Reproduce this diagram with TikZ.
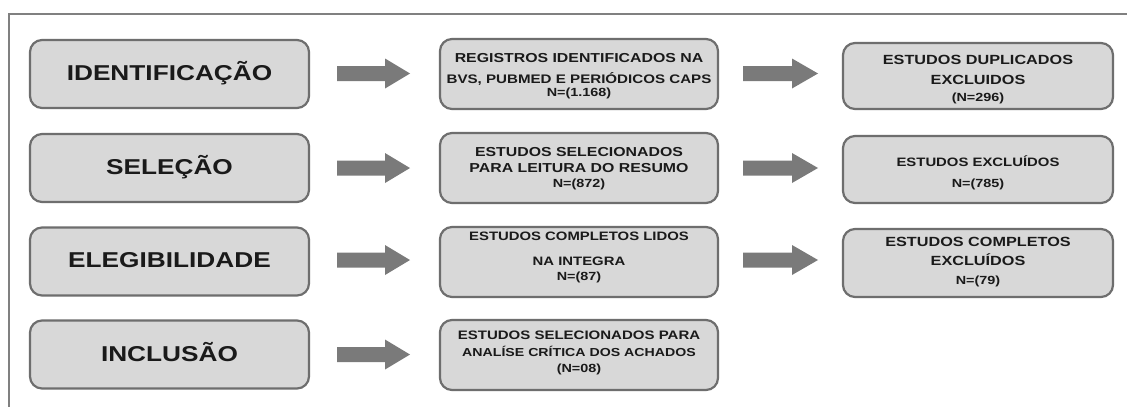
\documentclass[tikz,border=0pt]{standalone}
\usepackage{fontspec}
\newfontfamily\wf[FakeStretch=1.22]{Liberation Sans}
\definecolor{boxfill}{HTML}{D8D8D8}
\definecolor{boxline}{HTML}{6E6E6E}
\definecolor{arrfill}{HTML}{7A7A7A}
\definecolor{framec}{HTML}{808080}
\definecolor{txt}{HTML}{1A1A1A}
\tikzset{
  box/.style={draw=boxline, fill=boxfill, line width=2.2pt, rounded corners=12pt, inner sep=0pt},
  lbl/.style={anchor=base, inner sep=0pt, text=txt, font=\wf\bfseries\fontsize{#1}{#1}\selectfont},
  arr/.style={fill=arrfill},
  framel/.style={draw=framec, line width=2pt}
}
\newcommand\barrow[4]{\fill[arr] (#1,#4-7.5) -- (#3,#4-7.5) -- (#3,#4-15) -- (#2,#4) -- (#3,#4+15) -- (#3,#4+7.5) -- (#1,#4+7.5) -- cycle;}
\begin{document}
\begin{tikzpicture}[x=1pt,y=-1pt]
\useasboundingbox[fill=white] (0,0) rectangle (1127,407);
\draw[framel] (1127,13.8) -- (8.7,13.8) -- (8.7,407);

% column 1
\node[box, minimum width=279pt, minimum height=68pt] (b11) at (169.5,74) {};
\node[box, minimum width=279pt, minimum height=68pt] (b21) at (169.5,168) {};
\node[box, minimum width=279pt, minimum height=68pt] (b31) at (169.5,261.5) {};
\node[box, minimum width=279pt, minimum height=68pt] (b41) at (169.5,354.5) {};
\node[lbl=21.5] (t11) at (169.5,80.5) {IDENTIFICAÇÃO};
\node[lbl=21.5] (t21) at (169.5,174.5) {SELEÇÃO};
\node[lbl=21.5] (t31) at (169.5,267.5) {ELEGIBILIDADE};
\node[lbl=21.5] (t41) at (169.5,361.5) {INCLUSÃO};

% column 2
\node[box, minimum width=278pt, minimum height=70pt] (b12) at (579,74) {};
\node[box, minimum width=278pt, minimum height=70pt] (b22) at (579,168) {};
\node[box, minimum width=278pt, minimum height=70pt] (b32) at (579,262) {};
\node[box, minimum width=278pt, minimum height=70pt] (b42) at (579,355) {};
\node[lbl=13] (t12a) at (579,62.7) {REGISTROS IDENTIFICADOS NA};
\node[lbl=12.4] (t12b) at (579,83.5) {BVS, PUBMED E PERIÓDICOS CAPS};
\node[lbl=11.8] (t12c) at (579,96.7) {N=(1.168)};
\node[lbl=13] (t22a) at (579,156) {ESTUDOS SELECIONADOS};
\node[lbl=13] (t22b) at (579,172.7) {PARA LEITURA DO RESUMO};
\node[lbl=11.8] (t22c) at (579,187.7) {N=(872)};
\node[lbl=12.2] (t32a) at (579,240) {ESTUDOS COMPLETOS LIDOS};
\node[lbl=12.2] (t32b) at (579,265) {NA INTEGRA};
\node[lbl=11.8] (t32c) at (579,280.7) {N=(87)};
\node[lbl=12.3] (t42a) at (579,339.3) {ESTUDOS SELECIONADOS PARA};
\node[lbl=11.6] (t42b) at (579,356.7) {ANALÍSE CRÍTICA DOS ACHADOS};
\node[lbl=11.8] (t42c) at (579,372.7) {(N=08)};

% column 3
\node[box, minimum width=270pt, minimum height=66pt] (b13) at (978,76) {};
\node[box, minimum width=270pt, minimum height=67pt] (b23) at (978,169.5) {};
\node[box, minimum width=270pt, minimum height=68pt] (b33) at (978,263) {};
\node[lbl=13.3] (t13a) at (978,64.3) {ESTUDOS DUPLICADOS};
\node[lbl=13.3] (t13b) at (978,84.3) {EXCLUIDOS};
\node[lbl=11.8] (t13c) at (978,101) {(N=296)};
\node[lbl=12.2] (t23a) at (978,166.7) {ESTUDOS EXCLUÍDOS};
\node[lbl=11.8] (t23b) at (978,187.7) {N=(785)};
\node[lbl=13.3] (t33a) at (978,246.7) {ESTUDOS COMPLETOS};
\node[lbl=13.3] (t33b) at (978,265) {EXCLUÍDOS};
\node[lbl=11.8] (t33c) at (978,284) {N=(79)};

% block arrows
\barrow{337}{410}{385}{73.5}
\barrow{337}{410}{385}{168}
\barrow{337}{410}{385}{260}
\barrow{337}{410}{385}{354.5}
\barrow{743}{818}{792}{73.5}
\barrow{743}{818}{792}{168}
\barrow{743}{818}{792}{260}
\end{tikzpicture}
\end{document}
